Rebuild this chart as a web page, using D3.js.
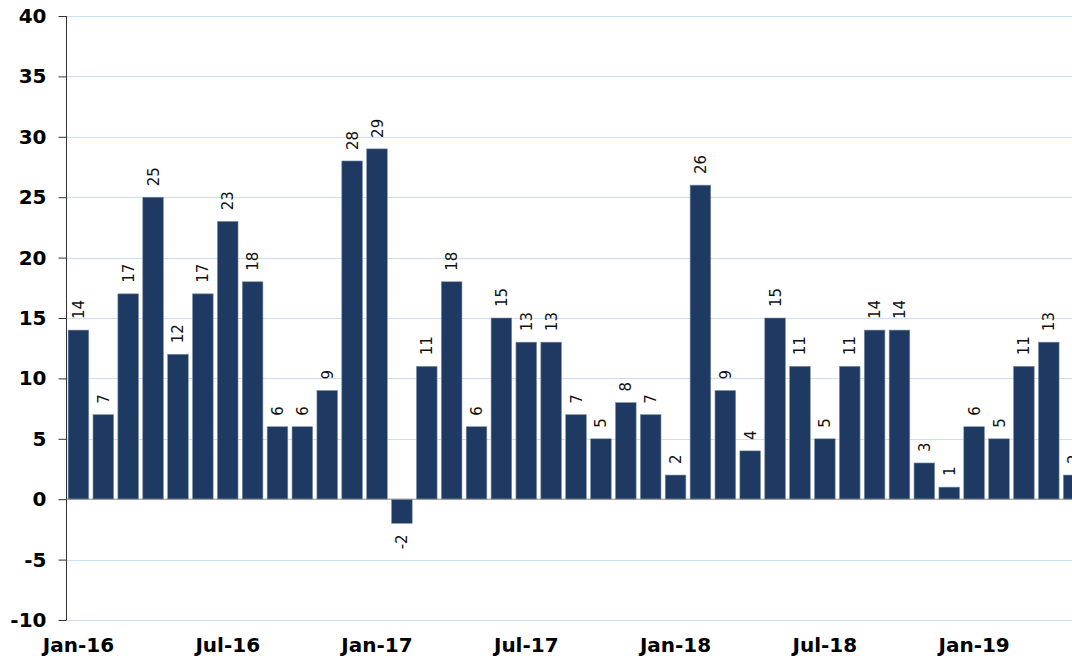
<!DOCTYPE html>
<html>
<head>
<meta charset="utf-8">
<script src="https://cdn.jsdelivr.net/npm/d3@7"></script>
<style>
  html, body { margin: 0; padding: 0; background: #fff; overflow: hidden; }
  svg { display: block; }
</style>
</head>
<body>
<svg id="chart"></svg>
<script>
// monthly values, Jan-16 .. May-19 (last bar is cut off at the right edge)
const months = [
  "Jan-16","Feb-16","Mar-16","Apr-16","May-16","Jun-16","Jul-16","Aug-16","Sep-16","Oct-16","Nov-16","Dec-16",
  "Jan-17","Feb-17","Mar-17","Apr-17","May-17","Jun-17","Jul-17","Aug-17","Sep-17","Oct-17","Nov-17","Dec-17",
  "Jan-18","Feb-18","Mar-18","Apr-18","May-18","Jun-18","Jul-18","Aug-18","Sep-18","Oct-18","Nov-18","Dec-18",
  "Jan-19","Feb-19","Mar-19","Apr-19","May-19"
];
const values = [
  14, 7, 17, 25, 12, 17, 23, 18, 6, 6, 9, 28,
  29, -2, 11, 18, 6, 15, 13, 13, 7, 5, 8, 7,
  2, 26, 9, 4, 15, 11, 5, 11, 14, 14, 3, 1,
  6, 5, 11, 13, 2
];
const xTickLabels = ["Jan-16","Jul-16","Jan-17","Jul-17","Jan-18","Jul-18","Jan-19"];
const yTicks = [-10, -5, 0, 5, 10, 15, 20, 25, 30, 35, 40];

const data = months.map((m, i) => ({ month: m, value: values[i] }));

const W = 1072, H = 656;
const plotLeft = 66, plotTop = 16, plotBottom = 620;
const step = 24.88;
const font = "'DejaVu Sans', Verdana, sans-serif";

const svg = d3.select("#chart").attr("width", W).attr("height", H);

const x = d3.scaleBand()
  .domain(months)
  .range([plotLeft, plotLeft + months.length * step])
  .paddingInner(0.17)
  .paddingOuter(0.085);

const y = d3.scaleLinear()
  .domain([-10, 40])
  .range([plotBottom, plotTop]);

// gridlines
svg.append("g")
  .selectAll("line")
  .data(yTicks.filter(d => d !== 0))
  .join("line")
    .attr("x1", plotLeft).attr("x2", W)
    .attr("y1", d => Math.round(y(d)) + 0.5)
    .attr("y2", d => Math.round(y(d)) + 0.5)
    .attr("stroke", "#cddff3")
    .attr("stroke-width", 1);

// bars
svg.append("g")
  .selectAll("rect")
  .data(data)
  .join("rect")
    .attr("x", d => x(d.month))
    .attr("y", d => y(Math.max(0, d.value)))
    .attr("width", x.bandwidth())
    .attr("height", d => Math.abs(y(d.value) - y(0)))
    .attr("fill", "#1e3a63")
    .attr("stroke", "#8193ab")
    .attr("stroke-width", 0.6);

// zero line
svg.append("line")
  .attr("x1", plotLeft).attr("x2", W)
  .attr("y1", y(0)).attr("y2", y(0))
  .attr("stroke", "#8c8c8c")
  .attr("stroke-width", 1);

// data labels, rotated
svg.append("g")
  .selectAll("text")
  .data(data)
  .join("text")
    .attr("transform", d => {
      const cx = x(d.month) + x.bandwidth() / 2 + 5.5;
      const cy = d.value >= 0 ? y(d.value) - 11 : y(d.value) + 11;
      return `translate(${cx},${cy}) rotate(-90)`;
    })
    .attr("text-anchor", d => d.value >= 0 ? "start" : "end")
    .style("font-family", font)
    .style("font-size", "15px")
    .attr("fill", "#111")
    .text(d => d.value);

// y axis
const yAxis = d3.axisLeft(y).tickValues(yTicks).tickSize(8).tickPadding(12).tickFormat(d => String(d));
const yAxisG = svg.append("g")
  .attr("transform", `translate(${plotLeft + 0.5},0)`)
  .call(yAxis);
yAxisG.select(".domain").attr("stroke", "#333").attr("d", `M0,${plotTop}V${plotBottom}`);
yAxisG.selectAll(".tick line").attr("stroke", "#333");
yAxisG.selectAll("text")
  .style("font-family", font)
  .style("font-size", "20px")
  .style("font-weight", "bold")
  .attr("fill", "#000");

// x labels
svg.append("g")
  .selectAll("text")
  .data(xTickLabels)
  .join("text")
    .attr("x", d => x(d) + x.bandwidth() / 2)
    .attr("y", 652)
    .attr("text-anchor", "middle")
    .style("font-family", font)
    .style("font-size", "20px")
    .style("font-weight", "bold")
    .attr("fill", "#000")
    .text(d => d);
</script>
</body>
</html>
